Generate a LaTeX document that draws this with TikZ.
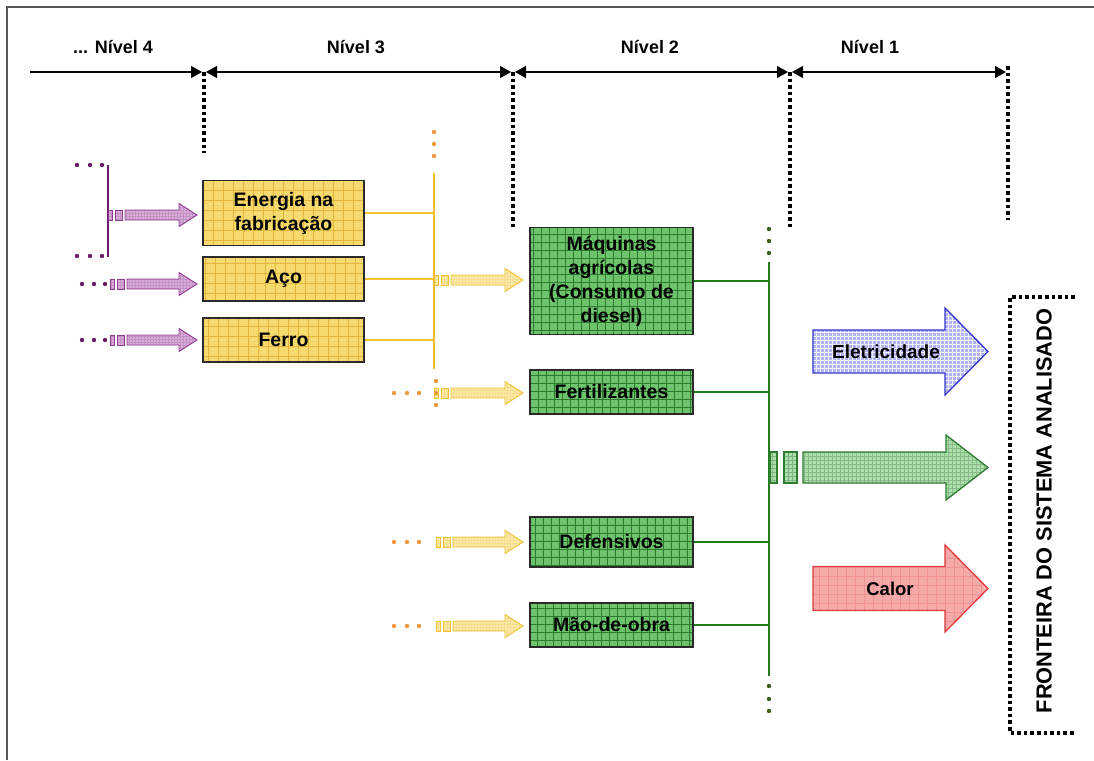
\documentclass[tikz,border=0pt]{standalone}
\usepackage{fontspec}
\setmainfont{Liberation Sans}
\usetikzlibrary{arrows.meta,calc}

\definecolor{framecol}{HTML}{555555}
\definecolor{boxline}{HTML}{2A2A2A}
\definecolor{yfill}{HTML}{F7DA6E}
\definecolor{ygrid}{HTML}{E2B63C}
\definecolor{gfill}{HTML}{6DC46D}
\definecolor{ggrid}{HTML}{2E7A2E}
\definecolor{pline}{HTML}{8E3C8E}
\definecolor{pfill}{HTML}{DDAADD}
\definecolor{pbus}{HTML}{6A1B6A}
\definecolor{yaline}{HTML}{EFC235}
\definecolor{yafill}{HTML}{FBEAA8}
\definecolor{ybus}{HTML}{F2C12E}
\definecolor{odot}{HTML}{EE9A3F}
\definecolor{gbus}{HTML}{1E7B1E}
\definecolor{gdot}{HTML}{3D5E20}
\definecolor{bline}{HTML}{3434C8}
\definecolor{bfill}{HTML}{B2B5F4}
\definecolor{galine}{HTML}{2E7D32}
\definecolor{gafill}{HTML}{A8E0A8}
\definecolor{rline}{HTML}{E03A3A}
\definecolor{rfill}{HTML}{F6A9A9}

\tikzset{
  hatch/.style={path picture={\draw[#1!55, line width=0.3pt]
      (path picture bounding box.south west) grid[step=3pt]
      (path picture bounding box.north east);}},
  hatchgrid/.style 2 args={path picture={\draw[#1, line width=0.4pt]
      (path picture bounding box.south west) grid[step=#2]
      (path picture bounding box.north east);}},
  boxtext/.style={font=\fontsize{19.5}{24}\selectfont\bfseries},
  ybox/.style={draw=boxline, line width=1.3pt, fill=yfill, inner sep=0pt, boxtext,
      minimum width=161pt, align=center, hatchgrid={ygrid}{10pt}},
  gbox/.style={draw=boxline, line width=1.3pt, fill=gfill, inner sep=0pt, boxtext,
      minimum width=163pt, align=center, hatchgrid={ggrid}{8pt}},
  tline/.style={line width=1.2pt, black, >={Triangle[length=11pt,width=12pt]}},
  tickline/.style={line width=3.6pt, dash pattern=on 3.6pt off 3pt, black},
  lvl/.style={font=\fontsize{18}{21}\selectfont\bfseries},
  ybusline/.style={ybus, line width=1.8pt},
  gbusline/.style={gbus, line width=1.8pt},
}

% small hatched arrow: line colour, fill colour, start x, tip x, y
\newcommand{\flowarrow}[5]{%
  \path[draw=#1, fill=#2, line width=0.9pt, hatch=#1] (#3,#5-5) rectangle (#3+4,#5+5);
  \path[draw=#1, fill=#2, line width=0.9pt, hatch=#1] (#3+7,#5-5) rectangle (#3+14,#5+5);
  \path[draw=#1, fill=#2, line width=0.9pt, hatch=#1]
    (#3+17,#5-5) -- (#4-18,#5-5) -- (#4-18,#5-11.5) -- (#4,#5)
    -- (#4-18,#5+11.5) -- (#4-18,#5+5) -- (#3+17,#5+5) -- cycle;}

% large output arrow: line, fill, grid colour, grid step, x left, x head, x tip, y, body half
\newcommand{\bigarrow}[9]{%
  \path[draw=#1, fill=#2, line width=1.3pt, hatchgrid={#3}{#4}]
    (#5,#8-#9) -- (#6,#8-#9) -- (#6,#8-\headhalf) -- (#7,#8)
    -- (#6,#8+\headhalf) -- (#6,#8+#9) -- (#5,#8+#9) -- cycle;}

\begin{document}
\begin{tikzpicture}[x=1pt, y=-1pt, font=\fontsize{18.5}{23}\selectfont\bfseries]
\useasboundingbox (0,0) rectangle (1094,760);
\fill[white] (0,0) rectangle (1094,760);
\draw[framecol, line width=1.6pt] (7,760) -- (7,7) -- (1094,7);

% ---- level axis ----
\coordinate (t0) at (30,72);
\coordinate (t1) at (204,72);
\coordinate (t2) at (513,72);
\coordinate (t3) at (790,72);
\coordinate (t4) at (1008,72);
\draw[tickline] (t1) -- (204,153);
\draw[tickline] (t2) -- (513,228);
\draw[tickline] (t3) -- (790,230);
\draw[tickline] (1008,66) -- (1008,220);
\draw[tline, ->] (t0) -- ([xshift=-2pt]t1);
\draw[tline, <->] ([xshift=2pt]t1) -- ([xshift=-2pt]t2);
\draw[tline, <->] ([xshift=2pt]t2) -- ([xshift=-2pt]t3);
\draw[tline, <->] ([xshift=2pt]t3) -- ([xshift=-2pt]t4);
\node[lvl] (n4) at (113,47) {... Nível 4};
\node[lvl] (n3) at (356,47) {Nível 3};
\node[lvl] (n2) at (650,47) {Nível 2};
\node[lvl] (n1) at (870,47) {Nível 1};

% ---- level 3 boxes ----
\node[ybox, minimum height=65pt] (energia) at (283.5,213) {Energia na\\fabricação};
\node[ybox, minimum height=44pt] (aco) at (283.5,279) {Aço};
\node[ybox, minimum height=44pt] (ferro) at (283.5,340) {Ferro};

% ---- level 2 boxes ----
\node[gbox, minimum height=107pt] (maq) at (611.5,281) {Máquinas\\agrícolas\\(Consumo de\\diesel)};
\node[gbox, minimum height=44pt] (fert) at (611.5,392) {Fertilizantes};
\node[gbox, minimum height=50pt] (def) at (611.5,542) {Defensivos};
\node[gbox, minimum height=44pt] (mao) at (611.5,625) {Mão-de-obra};

% ---- level 4 inputs ----
\coordinate (pTop) at (108,165);
\coordinate (pBot) at (108,257);
\draw[pbus, line width=1.8pt] (pTop) -- (pBot);
\foreach \x in {77,90,102} {
  \fill[pbus] (\x,165) circle (2.2);
  \fill[pbus] (\x,256) circle (2.2);
}
\foreach \x in {82,94,105} {
  \fill[pbus] (\x,284) circle (2.2);
  \fill[pbus] (\x,340) circle (2.2);
}
\flowarrow{pline}{pfill}{108}{197}{215}
\flowarrow{pline}{pfill}{110}{197}{284}
\flowarrow{pline}{pfill}{110}{197}{340}

% ---- level 3 collector ----
\coordinate (yTop) at (434,173);
\coordinate (yBot) at (434,369);
\foreach \y in {132,144,156} \fill[odot] (434,\y) circle (2.2);
\draw[ybusline] (energia.east) -- (energia.east -| yTop);
\draw[ybusline] (aco.east) -- (aco.east -| yTop);
\draw[ybusline] (ferro.east) -- (ferro.east -| yTop);
\draw[ybusline] (yTop) -- (yBot);
\flowarrow{yaline}{yafill}{434}{523}{280}

% ---- other level 3 inputs ----
\foreach \y in {381,405} \fill[odot] (436,\y) circle (2.2);
\foreach \y in {393,542,626} {
  \foreach \x in {394,407,419} \fill[odot] (\x,\y) circle (2.2);
}
\flowarrow{yaline}{yafill}{434}{523}{393}
\flowarrow{yaline}{yafill}{436}{523}{542}
\flowarrow{yaline}{yafill}{436}{523}{626}
\fill[odot] (436,393) circle (2.2);

% ---- level 2 collector ----
\coordinate (gTop) at (769,262);
\coordinate (gBot) at (769,676);
\draw[gbusline] (gTop) -- (gBot);
\draw[gbusline] (maq.east) -- (maq.east -| gTop);
\draw[gbusline] (fert.east) -- (fert.east -| gTop);
\draw[gbusline] (def.east) -- (def.east -| gTop);
\draw[gbusline] (mao.east) -- (mao.east -| gTop);
\foreach \y in {229,241,253,686,699,711} \fill[gdot] (769,\y) circle (2.2);

% ---- outputs ----
\def\headhalf{43.5}
\bigarrow{bline}{bfill}{white!80!bfill}{4pt}{813}{945}{988}{351.5}{21.5}
\node[font=\fontsize{19}{23}\selectfont\bfseries] (elet) at (886,351.5) {Eletricidade};
\def\headhalf{32.5}
\path[draw=galine, fill=gafill, line width=1.1pt, hatchgrid={galine!60}{4pt}] (770,452) rectangle (777,483);
\path[draw=galine, fill=gafill, line width=1.1pt, hatchgrid={galine!60}{4pt}] (784,452) rectangle (797,483);
\bigarrow{galine}{gafill}{galine!55}{4pt}{803}{946}{988}{467.5}{15.5}
\def\headhalf{43.5}
\bigarrow{rline}{rfill}{rline!55}{9pt}{813}{945}{988}{588.5}{22}
\node (calor) at (890,588.5) {Calor};

% ---- system boundary ----
\draw[tickline] (1075,297) -- (1010,297) -- (1010,733) -- (1075,733);
\node[rotate=90, font=\fontsize{21.8}{25}\selectfont\bfseries] (front) at (1044,511) {FRONTEIRA DO SISTEMA ANALISADO};
\end{tikzpicture}
\end{document}
